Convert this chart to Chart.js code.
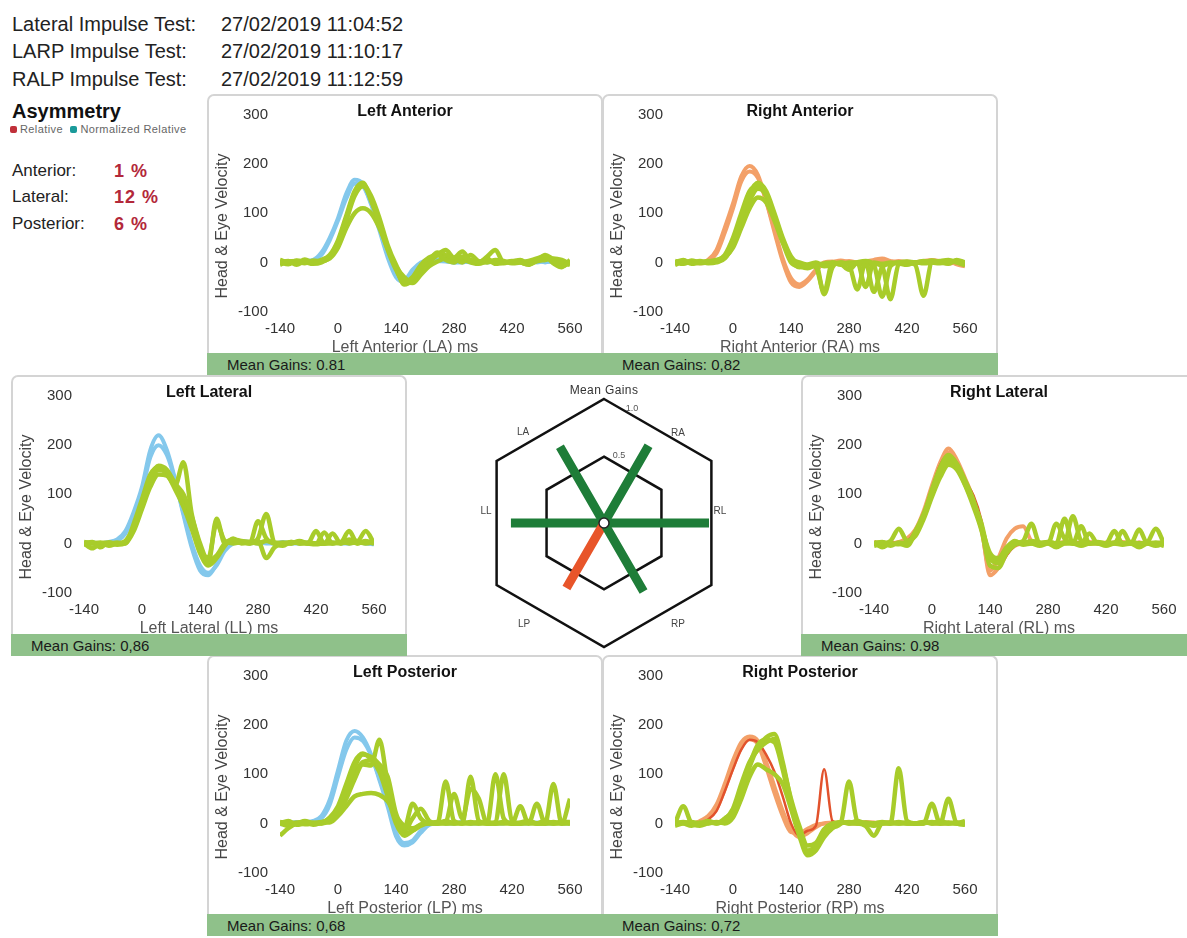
<!DOCTYPE html>
<html>
<head>
<meta charset="utf-8">
<script src="https://cdn.jsdelivr.net/npm/chart.js@4.4.0/dist/chart.umd.min.js"></script>
<style>
  html, body { margin: 0; padding: 0; background: #fff; }
  body { width: 1187px; height: 938px; position: relative; overflow: hidden;
         font-family: "Liberation Sans", Arial, sans-serif; color: #222; }
  .txt { position: absolute; white-space: nowrap; }
  .hdr { font-size: 20px; line-height: 24px; color: #222; }
  .panel { position: absolute; width: 396px; height: 281px; }
  .frame { position: absolute; left: 0; top: 0; width: 396px; height: 281px; box-sizing: border-box;
           border: 2px solid #d4d4d4; border-bottom: none; border-radius: 7px 7px 0 0; background: #fff; }
  .panel canvas { position: absolute; left: 0; top: 0; }
  .ptitle { position: absolute; left: 0; top: 8px; width: 396px; text-align: center;
            font-weight: bold; font-size: 16px; line-height: 18px; color: #111; }
  .ytitle { position: absolute; left: -95px; top: 123px; width: 220px; height: 18px; line-height: 18px;
            text-align: center; font-size: 16px; color: #444; transform: rotate(-90deg); }
  .xtitle { position: absolute; left: 0; top: 244px; width: 396px; line-height: 18px;
            text-align: center; font-size: 16px; color: #555; }
  .gainbar { position: absolute; left: 0; top: 259px; width: 396px; height: 22px; box-sizing: border-box;
             padding-left: 20px; background: #8fc18a; font-size: 15px; line-height: 24px; color: #1a1a1a; }
  .rlab { position: absolute; transform: translate(-50%, -50%); white-space: nowrap; color: #444; font-size: 10px; }
  #gridCanvas, #spokeCanvas { position: absolute; left: 474px; top: 393px; }
</style>
</head>
<body>
<script>
// ---- header / asymmetry text ----
const testNames = ['Lateral Impulse Test:', 'LARP Impulse Test:', 'RALP Impulse Test:'];
const testTimes = ['27/02/2019 11:04:52', '27/02/2019 11:10:17', '27/02/2019 11:12:59'];
const asymCategories = ['Anterior:', 'Lateral:', 'Posterior:'];
const asymValues = [1, 12, 6];

// ---- impulse traces, sampled every 20 ms ----
const timesMs = [-140, -120, -100, -80, -60, -40, -20, 0, 20, 40, 60, 80,
  100, 120, 140, 160, 180, 200, 220, 240, 260, 280, 300, 320,
  340, 360, 380, 400, 420, 440, 460, 480, 500, 520, 540, 560];
const timeTicks = [-140, 0, 140, 280, 420, 560];
const velocityTicks = [-100, 0, 100, 200, 300];

// Left Anterior
const laHead1 = [0, 2, 0, 3, 5, 20, 50, 90, 140, 168, 160, 120,
  70, 15, -25, -35, -15, 0, 5, 3, 2, 0, 2, 0,
  3, 0, 2, 0, 0, 2, 0, 3, 0, 5, 2, -3];
const laHead2 = [-3, 0, 2, 0, 3, 15, 45, 85, 130, 160, 155, 118,
  65, 10, -30, -40, -20, -3, 4, 6, 3, 0, 0, 2,
  0, 3, 0, 0, 2, 0, 3, 0, 2, 0, -2, 0];
const laEye1 = [0, 3, -5, 2, 0, 5, 15, 45, 95, 145, 162, 125,
  78, 25, -15, -40, -30, -5, 10, 15, 5, 0, 12, 5,
  0, 8, -3, 0, 2, 0, -5, 5, 10, 3, -8, 0];
const laEye2 = [-5, 2, 3, -2, 4, 2, 10, 35, 85, 135, 155, 130,
  85, 30, -10, -45, -35, -10, 5, 20, 15, 8, 0, 15,
  2, 0, 5, 3, -2, 0, 3, 8, 12, -2, -10, 5];
const laEye3 = [5, 0, -2, 6, 0, 3, 8, 30, 70, 100, 110, 100,
  70, 28, -8, -30, -40, -20, 0, 15, 25, 10, 22, 3,
  0, 12, 25, 0, 2, 5, -3, 4, 15, 6, 0, -5];
const laEye4 = [0, -4, 4, 1, -3, 0, 12, 40, 90, 140, 158, 135,
  90, 35, -5, -35, -42, -25, -8, 2, 8, 3, 5, 0,
  -3, 2, 0, -2, 3, 0, -4, 2, 5, 8, 5, -3];

// Right Anterior
const raHead1 = [0, 3, 0, -2, 5, 25, 70, 120, 175, 196, 178, 125,
  62, 2, -41, -50, -38, -18, 0, 2, 0, 3, 0, 2,
  5, 8, 3, 0, 2, 0, 3, 5, 2, -3, 0, -5];
const raHead2 = [-3, 0, 2, 0, 3, 18, 60, 110, 165, 185, 172, 125,
  68, 8, -32, -45, -35, -15, -3, 0, 4, 0, -2, 0,
  3, 5, 0, 3, 0, 0, 2, 3, 0, 2, -4, -8];
const raEye1 = [0, 5, -3, 0, 2, 5, 12, 40, 92, 140, 162, 145,
  100, 50, 12, -5, -8, -3, -65, -10, 0, -5, 0, 3,
  -5, -70, -8, 0, 2, 0, 3, 0, -2, 3, 0, -5];
const raEye2 = [-5, 2, 0, 3, -2, 0, 8, 35, 80, 125, 150, 140,
  95, 45, 5, -10, -5, 0, -8, -5, 0, -5, -55, 0,
  -60, -10, -3, 0, 0, -5, -68, 0, 2, 0, 2, -3];
const raEye3 = [3, -2, 4, 0, 3, 2, 10, 30, 70, 110, 132, 122,
  85, 40, 0, -8, -12, -5, -2, 0, -3, -15, -2, -5,
  -3, -8, -75, -4, 0, 0, -2, 0, 3, 5, 0, -6];
const raEye4 = [0, -3, 2, -2, 0, 4, 15, 50, 100, 145, 155, 135,
  92, 42, 8, 0, -5, -10, -60, 0, -5, 0, 0, -50,
  0, -3, 0, -2, -5, 0, 0, 4, 0, -3, 5, 0];

// Left Lateral
const llHead1 = [0, 2, 0, 3, 8, 25, 64, 115, 190, 220, 190, 130,
  58, -9, -55, -65, -42, -9, 3, 5, 3, 0, 2, 0,
  2, 0, 3, 0, 0, 2, 0, 2, 0, 3, 0, -2];
const llHead2 = [2, 0, -2, 0, 5, 20, 55, 105, 175, 200, 180, 128,
  62, 0, -45, -60, -45, -15, 0, 3, 0, 2, 0, 0,
  3, 0, 0, 2, 0, 0, 2, 0, 0, 2, 0, 0];
const llEye1 = [0, 3, -8, 2, 0, 5, 35, 85, 135, 158, 150, 122,
  100, 55, 0, -35, -25, 0, 8, 5, 3, 0, 5, 2,
  0, 3, 0, 2, 0, 0, 2, 0, 5, 0, 3, 0];
const llEye2 = [-3, 0, 2, -5, 0, 3, 30, 75, 125, 150, 145, 118,
  165, 60, -5, -40, 50, 0, 5, 2, 0, 10, 60, 0,
  -5, 3, 0, 0, 25, 0, 20, 0, 8, 5, 25, 0];
const llEye3 = [0, -10, 0, 2, -3, 0, 25, 70, 115, 140, 138, 110,
  75, 30, -20, -45, -30, -5, 10, 0, 3, 5, -30, -8,
  0, 0, 3, 0, -2, 0, 0, 3, 0, 2, 0, 3];
const llEye4 = [3, 0, 0, -3, 2, 0, 40, 90, 140, 155, 140, 115,
  85, 40, -10, -30, 40, 5, 0, 2, 0, 45, 10, 0,
  2, 0, 5, 0, 0, 22, 0, 2, 25, 0, 5, 0];

// Right Lateral
const rlHead1 = [0, 2, 0, 3, 10, 28, 66, 118, 165, 193, 170, 132,
  90, 30, -65, -50, -20, -5, 0, 3, 0, 2, 0, 0,
  2, 0, 3, 0, 0, 2, 0, 3, 0, 2, 0, -2];
const rlHead2 = [3, 0, -2, 0, 5, 22, 60, 110, 160, 185, 165, 128,
  85, 25, -55, -30, 10, 30, 35, 5, 0, 2, 0, 3,
  0, 2, 0, 0, 2, 0, 3, 0, 2, 0, 0, 3];
const rlRed = [0, 0, 2, 0, 5, 25, 62, 112, 160, 180, 158, 125,
  98, 45, -45, -50, -25, -5, 0, 2, 0, 0, 3, 0,
  0, 2, 0, 0, 0, 2, 0, 0, 3, 0, 2, 0];
const rlEye1 = [0, 3, -5, 2, 0, 25, 60, 105, 150, 175, 160, 125,
  85, 38, -30, -40, -15, 0, 5, 40, 0, 3, 0, 2,
  55, 5, 0, 2, 0, 0, 25, 0, 0, 3, 30, 0];
const rlEye2 = [-5, 0, 5, 30, 5, 18, 55, 100, 145, 168, 155, 120,
  80, 30, -25, -35, -10, 3, 0, 5, 2, 0, 40, 10,
  0, 35, 0, 3, 0, 25, 0, 0, 28, 0, 0, -5];
const rlEye3 = [3, -8, 0, -2, 3, 15, 50, 95, 135, 160, 150, 118,
  75, 25, -45, -50, -20, -3, 2, 0, 0, 3, 0, 50,
  0, 0, 20, 0, 0, 2, 0, 3, 0, 0, 2, 0];
const rlEye4 = [0, 2, -2, 0, -5, 22, 58, 110, 155, 180, 162, 128,
  88, 32, -20, -30, -8, 5, -3, 0, -5, 0, -8, 0,
  0, -5, 0, 0, -5, 0, -3, 0, -8, 0, -5, 0];

// Left Posterior
const lpHead1 = [0, 2, 0, 3, 5, 15, 48, 108, 168, 188, 175, 140,
  88, 34, -26, -45, -39, -19, -3, 0, 3, 0, 2, 0,
  0, 2, 0, 3, 0, 0, 2, 0, 0, 2, 0, 0];
const lpHead2 = [-2, 0, 3, 0, 2, 10, 38, 95, 150, 175, 168, 138,
  92, 40, -18, -40, -35, -15, 0, 2, 0, 0, 3, 0,
  2, 0, 0, 0, 3, 0, 0, 2, 0, 0, 3, 0];
const lpEye1 = [-25, -10, 0, 3, 0, 2, 10, 30, 70, 115, 140, 135,
  120, 95, 20, -10, 40, 10, 0, 0, 85, 5, 0, 95,
  5, 0, 100, 10, 0, 0, 0, 40, 0, 80, 0, 50];
const lpEye2 = [0, 5, -3, 0, 2, 0, 5, 20, 50, 90, 120, 118,
  170, 80, 10, -15, 10, 30, 5, 0, 3, 60, 10, 70,
  50, 0, 3, 100, 5, 0, 3, 0, 5, 0, 2, 3];
const lpEye3 = [3, 0, 2, -2, 0, 3, 2, 15, 35, 55, 60, 62,
  58, 45, 15, -5, -10, -3, 0, 3, 0, 2, 0, 0,
  3, 0, 0, 2, 0, 35, 0, 0, 3, 0, 0, 2];
const lpEye4 = [0, -5, 0, 3, -3, 2, 8, 25, 60, 100, 125, 128,
  115, 70, 5, -20, -15, -5, 2, 0, 5, 0, 2, 0,
  0, 3, 0, 0, 0, 2, 5, 0, 0, 0, 3, 0];
const lpEye5 = [2, 0, 0, 5, 0, 0, 12, 35, 80, 125, 142, 130,
  105, 55, 0, -25, -15, -2, 0, 0, 0, 0, 0, 3,
  0, 0, 0, 3, 0, 0, 2, 0, 0, 3, 0, 0];

// Right Posterior
const rpHead1 = [0, 2, 0, 3, 10, 29, 69, 115, 155, 171, 161, 115,
  62, 15, -18, -20, -11, -3, 0, 2, 0, 3, 0, 2,
  0, 0, 3, 0, 2, 0, 0, 3, 0, 0, 2, 0];
const rpHead2 = [2, 0, -2, 5, 15, 38, 80, 128, 165, 177, 168, 125,
  75, 25, -12, -28, -20, -8, 0, 0, 3, 0, 0, 3,
  2, 0, 0, 2, 0, 0, 3, 0, 0, 2, 0, 0];
const rpRed = [0, 0, 2, 0, 8, 25, 65, 110, 150, 170, 165, 140,
  105, 55, 0, -25, -15, -5, 110, 5, 0, 2, 0, 0,
  2, 0, 0, 3, 0, 0, 2, 0, 0, 0, 3, 0];
const rpEye1 = [0, 35, 0, -5, 0, 2, 5, 20, 65, 115, 155, 175,
  182, 125, 45, -15, -60, -50, -22, -8, 0, 85, 5, 0,
  -5, 0, 0, 112, 5, 0, 0, 40, 0, 0, 2, 0];
const rpEye2 = [-5, 0, 3, 0, 2, 0, 10, 25, 70, 120, 160, 170,
  165, 110, 35, -20, -55, -45, -18, -5, 3, 0, 0, -5,
  -25, 0, 2, 0, 0, 0, 3, 0, 0, 50, 0, -3];
const rpEye3 = [3, 0, -5, 2, 0, 3, 0, 12, 50, 95, 120, 110,
  100, 80, 30, -25, -65, -55, -28, -10, 0, 3, 0, 2,
  0, 3, 0, 0, 2, 0, 0, 3, 0, 2, 0, 5];
const rpEye4 = [0, 3, 0, 0, 5, 0, 8, 30, 80, 125, 150, 165,
  172, 118, 50, -5, -45, -40, -12, 0, 2, 0, 5, 0,
  0, 2, 0, 3, 0, 0, 2, 0, 5, 0, 0, 2];

// ---- mean gains (radar, clockwise from upper-left) ----
const gainLabels = ['LA', 'RA', 'RL', 'RP', 'LP', 'LL'];
const meanGains = [0.81, 0.82, 0.98, 0.72, 0.68, 0.86];
const radarMin = -0.075;
const radarTicks = [-0.075, 0.5, 1.0];

// ---- styles / layout ----
const BLUE = '#84c8ec', ORANGE = '#f3a068', RED = '#e2522c', GREEN = '#a8cc2a';
const SPOKE_GREEN = '#1e7d38', SPOKE_RED = '#e8552a';
const tickFont = { family: 'Liberation Sans', size: 15 };

const panels = [
  { title: 'Left Anterior', xTitle: 'Left Anterior (LA) ms', gain: 'Mean Gains: 0.81', pos: [207, 94],
    heads: [laHead1, laHead2], reds: [], eyes: [laEye1, laEye2, laEye3, laEye4], headColor: BLUE },
  { title: 'Right Anterior', xTitle: 'Right Anterior (RA) ms', gain: 'Mean Gains: 0,82', pos: [602, 94],
    heads: [raHead1, raHead2], reds: [], eyes: [raEye1, raEye2, raEye3, raEye4], headColor: ORANGE },
  { title: 'Left Posterior', xTitle: 'Left Posterior (LP) ms', gain: 'Mean Gains: 0,68', pos: [207, 655],
    heads: [lpHead1, lpHead2], reds: [], eyes: [lpEye1, lpEye2, lpEye3, lpEye4, lpEye5], headColor: BLUE },
  { title: 'Right Posterior', xTitle: 'Right Posterior (RP) ms', gain: 'Mean Gains: 0,72', pos: [602, 655],
    heads: [rpHead1, rpHead2], reds: [rpRed], eyes: [rpEye1, rpEye2, rpEye3, rpEye4], headColor: ORANGE },
  { title: 'Left Lateral', xTitle: 'Left Lateral (LL) ms', gain: 'Mean Gains: 0,86', pos: [11, 375],
    heads: [llHead1, llHead2], reds: [], eyes: [llEye1, llEye2, llEye3, llEye4], headColor: BLUE },
  { title: 'Right Lateral', xTitle: 'Right Lateral (RL) ms', gain: 'Mean Gains: 0.98', pos: [801, 375],
    heads: [rlHead1, rlHead2], reds: [rlRed], eyes: [rlEye1, rlEye2, rlEye3, rlEye4], headColor: ORANGE }
];

function addText(cls, text, left, top, style) {
  const d = document.createElement('div');
  d.className = 'txt ' + cls;
  d.textContent = text;
  d.style.left = left + 'px';
  d.style.top = top + 'px';
  Object.assign(d.style, style || {});
  document.body.appendChild(d);
  return d;
}

// header
const headerTops = [12, 39, 67];
testNames.forEach((name, i) => {
  addText('hdr', name, 12, headerTops[i]);
  addText('hdr', testTimes[i], 221, headerTops[i]);
});
addText('', 'Asymmetry', 12, 99, { fontSize: '20px', fontWeight: 'bold', lineHeight: '24px', color: '#111' });
const legend = document.createElement('div');
legend.className = 'txt';
legend.style.cssText = 'left:10px;top:122px;font-size:11px;line-height:14px;color:#666;letter-spacing:0.4px;';
legend.innerHTML = '<span style="display:inline-block;width:7px;height:7px;border-radius:2px;background:#c0303a;margin-right:3px"></span>Relative ' +
  '<span style="display:inline-block;width:7px;height:7px;border-radius:2px;background:#1a9a9a;margin:0 3px 0 4px"></span>Normalized Relative';
document.body.appendChild(legend);
const asymTops = [161, 187, 214];
asymCategories.forEach((c, i) => {
  addText('', c, 12, asymTops[i], { fontSize: '17px', lineHeight: '20px', color: '#222' });
  addText('', asymValues[i] + ' %', 114, asymTops[i], { fontSize: '18px', lineHeight: '20px', fontWeight: 'bold', color: '#b3283a', letterSpacing: '1px' });
});

function series(vals) {
  return vals.map((v, i) => ({ x: timesMs[i], y: v }));
}

panels.forEach(p => {
  const el = document.createElement('div');
  el.className = 'panel';
  el.style.left = p.pos[0] + 'px';
  el.style.top = p.pos[1] + 'px';
  el.innerHTML = '<div class="frame"></div><canvas width="396" height="259"></canvas>' +
    '<div class="ptitle"></div><div class="ytitle">Head &amp; Eye Velocity</div>' +
    '<div class="xtitle"></div><div class="gainbar"></div>';
  el.querySelector('.ptitle').textContent = p.title;
  el.querySelector('.xtitle').textContent = p.xTitle;
  el.querySelector('.gainbar').textContent = p.gain;
  document.body.appendChild(el);

  // first dataset is painted last, so eye traces go first to sit on top
  const datasets = [];
  p.eyes.forEach(e => datasets.push({ data: series(e), borderColor: GREEN, borderWidth: 4.5 }));
  p.reds.forEach(r => datasets.push({ data: series(r), borderColor: RED, borderWidth: 2.5 }));
  p.heads.forEach(h => datasets.push({ data: series(h), borderColor: p.headColor, borderWidth: 4 }));

  new Chart(el.querySelector('canvas'), {
    type: 'line',
    data: { datasets },
    options: {
      responsive: false,
      animation: false,
      devicePixelRatio: 1,
      layout: { padding: { left: 0, right: 33, top: 17, bottom: 0 } },
      plugins: { legend: { display: false }, tooltip: { enabled: false } },
      elements: {
        point: { radius: 0 },
        line: { cubicInterpolationMode: 'monotone', fill: false }
      },
      scales: {
        x: {
          type: 'linear', min: -140, max: 560,
          afterBuildTicks: s => { s.ticks = timeTicks.map(v => ({ value: v })); },
          afterFit: s => { s.height = 41.5; },
          grid: { display: false, drawTicks: false },
          border: { display: false },
          ticks: { font: tickFont, color: '#333', padding: 8, maxRotation: 0, autoSkip: false }
        },
        y: {
          min: -100, max: 300,
          afterBuildTicks: s => { s.ticks = velocityTicks.map(v => ({ value: v })); },
          afterFit: s => { s.width = 73; },
          grid: { display: false, drawTicks: false },
          border: { display: false },
          ticks: { font: tickFont, color: '#333', padding: 12 }
        }
      }
    }
  });
});

// ---- mean gains radar ----
const gridCanvas = document.createElement('canvas');
gridCanvas.id = 'gridCanvas'; gridCanvas.width = 260; gridCanvas.height = 260;
document.body.appendChild(gridCanvas);
const spokeCanvas = document.createElement('canvas');
spokeCanvas.id = 'spokeCanvas'; spokeCanvas.width = 260; spokeCanvas.height = 260;
document.body.appendChild(spokeCanvas);

// hexagon grid: vertices at the top, so startAngle 0
new Chart(gridCanvas, {
  type: 'radar',
  data: { labels: gainLabels, datasets: [] },
  options: {
    responsive: false, animation: false, devicePixelRatio: 1,
    layout: { padding: 6 },
    plugins: { legend: { display: false }, tooltip: { enabled: false } },
    scales: {
      r: {
        min: radarMin, max: 1, startAngle: 0,
        afterBuildTicks: s => { s.ticks = radarTicks.map(v => ({ value: v })); },
        angleLines: { display: false },
        pointLabels: { display: false },
        ticks: { display: false },
        grid: { color: '#111', lineWidth: 2.5, circular: false }
      }
    }
  }
});

// gain spokes point at the edge midpoints: rotate by -30 and shrink to the inner radius
const spokeSets = [{
  data: gainLabels.map(() => radarMin),
  borderWidth: 0, borderColor: 'rgba(0,0,0,0)',
  pointRadius: gainLabels.map((_, j) => j === 0 ? 5 : 0),
  pointBackgroundColor: '#fff', pointBorderColor: '#222', pointBorderWidth: 1.5
}];
gainLabels.forEach((lab, i) => {
  spokeSets.push({
    data: gainLabels.map((_, j) => j === i ? meanGains[i] : radarMin),
    borderColor: meanGains[i] < 0.7 ? SPOKE_RED : SPOKE_GREEN,
    borderWidth: 9, borderJoinStyle: 'bevel', pointRadius: 0, fill: false
  });
});
new Chart(spokeCanvas, {
  type: 'radar',
  data: { labels: gainLabels, datasets: spokeSets },
  options: {
    responsive: false, animation: false, devicePixelRatio: 1,
    layout: { padding: 22.5 },
    plugins: { legend: { display: false }, tooltip: { enabled: false } },
    scales: {
      r: {
        min: radarMin, max: 1, startAngle: -30,
        angleLines: { display: false },
        pointLabels: { display: false },
        ticks: { display: false },
        grid: { display: false }
      }
    }
  }
});

// radar text
const radarLabelPos = { LA: [523, 431], RA: [678, 432], RL: [720, 510], RP: [678, 623], LP: [524, 623], LL: [486, 510] };
gainLabels.forEach(l => {
  addText('rlab', l, radarLabelPos[l][0], radarLabelPos[l][1]);
});
addText('rlab', 'Mean Gains', 604, 390, { fontSize: '12px', color: '#333', letterSpacing: '0.4px' });
addText('rlab', '1.0', 632, 408, { fontSize: '9px', color: '#555' });
addText('rlab', '0.5', 619, 455, { fontSize: '9px', color: '#555' });
</script>
</body>
</html>
